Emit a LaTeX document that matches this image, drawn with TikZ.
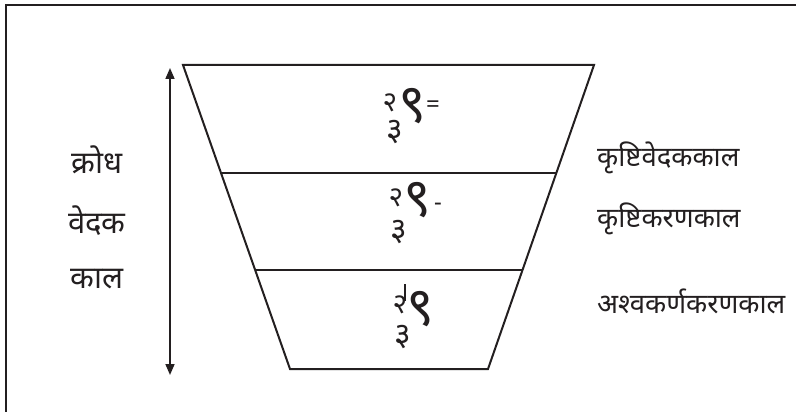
\documentclass[tikz,border=0pt]{standalone}
\usepackage{fontspec}
\newfontfamily\dev[Script=Devanagari]{Noto Sans}
\usetikzlibrary{arrows.meta,calc,intersections}
\definecolor{ink}{HTML}{231F20}
\begin{document}
\begin{tikzpicture}[x=1pt,y=-1pt,
  edge/.style={draw=ink,line width=2pt},
  lbl/.style={font=\dev\fontsize{31}{34}\selectfont,text=ink,inner sep=0pt},
  rlbl/.style={font=\dev\fontsize{27.5}{30}\selectfont,text=ink,inner sep=0pt,anchor=west},
  sym/.style={font=\dev\fontsize{#1}{#1}\selectfont,text=ink,inner sep=0pt,
    text height=0.5*#1pt,text depth=0pt}]
\useasboundingbox (0,0) rectangle (796,412);
% frame
\coordinate (fbl) at (6,412);
\coordinate (ftl) at (6,5);
\coordinate (ftr) at (796,5);
\draw[edge,line width=2.2pt] (fbl) -- (ftl) -- (ftr);
% trapezoid
\coordinate (tl) at (183,65);
\coordinate (tr) at (594,65);
\coordinate (bl) at (290,369);
\coordinate (br) at (488,369);
\draw[edge,line join=miter] (tl) -- (tr) -- (br) -- (bl) -- cycle;
\coordinate (l1) at ($(tl)!0.355!(bl)$);
\coordinate (r1) at ($(tr)!0.355!(br)$);
\coordinate (l2) at ($(tl)!0.675!(bl)$);
\coordinate (r2) at ($(tr)!0.675!(br)$);
\draw[edge] (l1) -- (r1);
\draw[edge] (l2) -- (r2);
% arrow
\coordinate (at) at (170,68);
\coordinate (ab) at (170,375);
\draw[draw=ink,line width=1.6pt,{Triangle[length=11pt,width=9pt]}-{Triangle[length=11pt,width=9pt]}] (at) -- (ab);
% left labels
\node[lbl] (k1) at (97,160) {क्रोध};
\node[lbl] (k2) at (97,221) {वेदक};
\node[lbl] (k3) at (97,279) {काल};
% right labels
\node[rlbl] (r1t) at (597,158) {कृष्टिवेदककाल};
\node[rlbl] (r2t) at (597,219) {कृष्टिकरणकाल};
\node[rlbl] (r3t) at (597,301) {अश्वकर्णकरणकाल};
% symbols
\node[sym=28] (a2) at (390,105) {२};
\node[sym=54] (a9) at (413,109) {९};
\node[sym=24] (ae) at (433,107) {=};
\node[sym=32] (a3) at (395,132) {३};
\node[sym=28] (b2) at (396,199) {२};
\node[sym=54] (b9) at (418,203) {९};
\node[sym=24] (bm) at (438,204) {-};
\node[sym=32] (b3) at (399,232) {३};
\coordinate (cv1) at (405,284);
\coordinate (cv2) at (405,301);
\draw[draw=ink,line width=1.2pt] (cv1) -- (cv2);
\node[sym=28] (c2) at (400,306) {२};
\node[sym=54] (c9) at (421,312) {९};
\node[sym=32] (c3) at (403,337) {३};
\end{tikzpicture}
\end{document}
